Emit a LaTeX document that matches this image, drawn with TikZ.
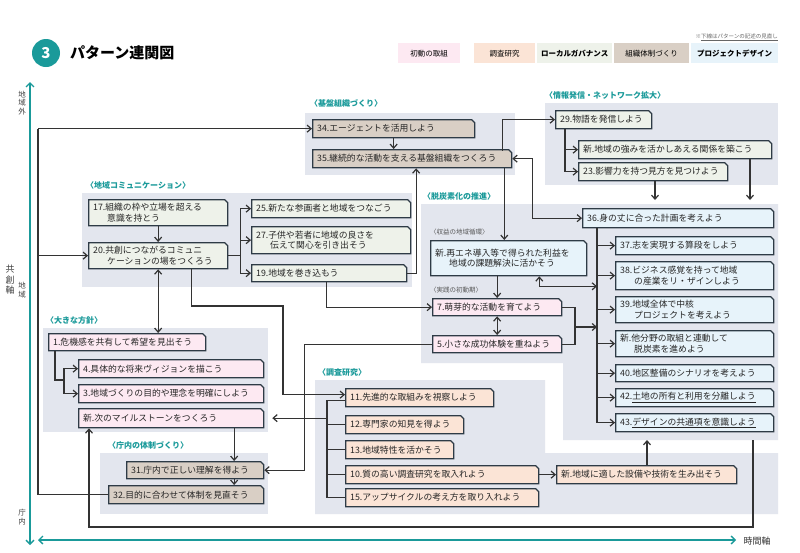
\documentclass[tikz,border=0pt]{standalone}
\usepackage{fontspec}
\setmainfont{Noto Sans CJK JP}
\usetikzlibrary{shapes.misc,arrows.meta,calc}
\definecolor{cpink}{HTML}{FDE9F2}
\definecolor{cpeach}{HTML}{FBE4D6}
\definecolor{cgreen}{HTML}{EEF2EA}
\definecolor{cbrown}{HTML}{D9CFC5}
\definecolor{cblue}{HTML}{E7F3FA}
\definecolor{cgroup}{HTML}{E3E6EE}
\definecolor{cline}{HTML}{2E3B46}
\definecolor{cteal}{HTML}{1A9A9A}
\tikzset{
 box/.style={draw=cline,line width=1.3pt,chamfered rectangle,chamfered rectangle corners=north east,chamfered rectangle xsep=1.5pt,chamfered rectangle ysep=1.5pt,inner xsep=3pt,inner ysep=1pt,align=left,font=\fontsize{8.8}{10.5}\selectfont,text=black!85},
 arr/.style={line width=1.2pt,draw=black!80,-{Straight Barb[length=4pt,width=7pt,line width=1.2pt]}},
 arrb/.style={line width=1.2pt,draw=black!80,{Straight Barb[length=4pt,width=7pt,line width=1.2pt]}-{Straight Barb[length=4pt,width=7pt,line width=1.2pt]}},
 ln/.style={line width=1.2pt,draw=black!80},
 grp/.style={fill=cgroup,draw=none},
 glab/.style={text=cteal,font=\fontsize{8}{9}\selectfont\bfseries,anchor=west,inner sep=0pt},
 slab/.style={text=black!65,font=\fontsize{6.5}{8}\selectfont,anchor=west,inner sep=0pt},
 leg/.style={minimum height=20pt,inner sep=0pt,font=\fontsize{7.5}{9}\selectfont,anchor=north west},
 axis/.style={line width=1.3pt,draw=cteal,{Straight Barb[length=4pt,width=8pt]}-{Straight Barb[length=4pt,width=8pt]}},
 axl/.style={font=\fontsize{7.5}{8.5}\selectfont,text=black!75,align=center,inner sep=0pt}
}
\newcommand\bx[7]{\pgfmathsetmacro\bxw{#4-#2}\pgfmathsetmacro\bxh{#5-#3}\pgfmathsetmacro\bxt{#4-#2-8}%
 \node[box,fill=#6,minimum width=\bxw pt,minimum height=\bxh pt,text width=\bxt pt,anchor=north west] (#1) at (#2,#3) {#7};}
\begin{document}
\begin{tikzpicture}[x=1pt,y=-1pt]
\useasboundingbox[fill=white] (0,0) rectangle (800,552);
% header
\node[circle,fill=cteal,minimum size=28pt,inner sep=0pt,text=white,font=\fontsize{15}{15}\selectfont\bfseries] (num) at (46,53) {3};
\node[anchor=west,font=\fontsize{15}{16}\selectfont\bfseries,inner sep=0pt] (title) at (70,53) {パターン連関図};
\node[anchor=east,font=\fontsize{5.5}{6}\selectfont,text=black!60,inner sep=0pt] (note) at (778,37) {※\underline{下線はパターンの記述の見直し}};
\node[leg,fill=cpink,minimum width=62pt] (l1) at (398,43) {初動の取組};
\node[leg,fill=cpeach,minimum width=61pt] (l2) at (474,43) {調査研究};
\node[leg,fill=cgreen,minimum width=75pt,font=\fontsize{7.5}{9}\selectfont\bfseries] (l3) at (537,43) {ローカルガバナンス};
\node[leg,fill=cbrown,minimum width=75pt] (l4) at (614,43) {組織体制づくり};
\node[leg,fill=cblue,minimum width=87pt,font=\fontsize{7.5}{9}\selectfont\bfseries] (l5) at (691,43) {プロジェクトデザイン};
% axes
\coordinate (ax1) at (30,82); \coordinate (ax2) at (30,545);
\draw[axis] (ax1) -- (ax2);
\coordinate (at1) at (38,540); \coordinate (at2) at (736,540);
\draw[axis] (at1) -- (at2);
\node[anchor=west,font=\fontsize{9}{10}\selectfont,text=black!80] (tl) at (740,541) {時間軸};
\node[axl] (a1) at (22,103) {地\\域\\外};
\node[axl] (a2) at (22,290) {地\\域};
\node[axl] (a3) at (22,517) {庁\\内};
\node[axl,font=\fontsize{9}{10.5}\selectfont] (a4) at (10,280) {共\\創\\軸};
% groups
\fill[grp] (305,113) rectangle (515,175);
\fill[grp] (545,103) rectangle (778,185);
\fill[grp] (82,193) rectangle (412,287);
\fill[grp] (421,204) -- (778,204) -- (778,440) -- (563,440) -- (563,363) -- (421,363) -- cycle;
\fill[grp] (43,328) rectangle (268,432);
\fill[grp] (100,453) rectangle (268,514);
\fill[grp] (315,380) -- (545,380) -- (545,453) -- (778,453) -- (778,514) -- (315,514) -- cycle;
\node[glab] (g1) at (310,103) {〈基盤組織づくり〉};
\node[glab] (g2) at (545,95) {〈情報発信・ネットワーク拡大〉};
\node[glab] (g3) at (86,185) {〈地域コミュニケーション〉};
\node[glab] (g4) at (423,196) {〈脱炭素化の推進〉};
\node[glab] (g5) at (46,320) {〈大きな方針〉};
\node[glab] (g6) at (108,445) {〈庁内の体制づくり〉};
\node[glab] (g7) at (318,372) {〈調査研究〉};
\node[slab] (s1) at (430,232) {〈収益の地域循環〉};
\node[slab] (s2) at (430,290) {〈実践の初動期〉};
% boxes
\bx{n34}{312}{119}{473}{137}{cbrown}{34.エージェントを活用しよう}
\bx{n35}{312}{149}{510}{167}{cbrown}{35.継続的な活動を支える基盤組織をつくろう}
\bx{n29}{555}{110}{650}{128}{cgreen}{29.物語を発信しよう}
\bx{nst}{578}{140}{770}{158}{cgreen}{新.地域の強みを活かしあえる関係を築こう}
\bx{n23}{578}{162}{726}{180}{cgreen}{23.影響力を持つ見方を見つけよう}
\bx{n17}{88}{199}{226}{225}{cgreen}{17.組織の枠や立場を超える\\\hspace*{1.6em}意識を持とう}
\bx{n25}{251}{199}{409}{217}{cgreen}{25.新たな参画者と地域をつなごう}
\bx{n27}{251}{226}{409}{253}{cgreen}{27.子供や若者に地域の良さを\\\hspace*{1.6em}伝えて関心を引き出そう}
\bx{n20}{88}{242}{226}{268}{cgreen}{20.共創につながるコミュニ\\\hspace*{1.6em}ケーションの場をつくろう}
\bx{n19}{251}{264}{405}{281}{cgreen}{19.地域を巻き込もう}
\bx{nre}{430}{240}{585}{275}{cblue}{新.再エネ導入等で得られた利益を\\\hspace*{1.6em}地域の課題解決に活かそう}
\bx{n7}{432}{298}{560}{315}{cpink}{7.萌芽的な活動を育てよう}
\bx{n5}{432}{335}{560}{352}{cpink}{5.小さな成功体験を重ねよう}
\bx{n36}{582}{208}{772}{227}{cblue}{36.身の丈に合った計画を考えよう}
\bx{n37}{615}{236}{772}{254}{cblue}{37.志を実現する算段をしよう}
\bx{n38}{615}{261}{772}{289}{cblue}{38.ビジネス感覚を持って地域\\\hspace*{1.6em}の産業をリ・ザインしよう}
\bx{n39}{615}{296}{772}{322}{cblue}{39.地域全体で中核\\\hspace*{1.6em}プロジェクトを考えよう}
\bx{nta}{615}{330}{772}{356}{cblue}{新.他分野の取組と連動して\\\hspace*{1.6em}脱炭素を進めよう}
\bx{n40}{615}{364}{772}{381}{cblue}{40.地区整備のシナリオを考えよう}
\bx{n42}{615}{388}{772}{406}{cblue}{42.\underline{土地の所有と利用を分離しよう}}
\bx{n43}{615}{413}{772}{431}{cblue}{43.\underline{デザインの共通項を意識しよう}}
\bx{n1}{48}{333}{204}{350}{cpink}{1.危機感を共有して希望を見出そう}
\bx{n4}{78}{359}{262}{377}{cpink}{4.具体的な将来ヴィジョンを描こう}
\bx{n3}{78}{384}{262}{402}{cpink}{3.地域づくりの目的や理念を明確にしよう}
\bx{nms}{78}{408}{262}{427}{cpink}{新.次のマイルストーンをつくろう}
\bx{n31}{126}{461}{262}{478}{cbrown}{31.庁内で正しい理解を得よう}
\bx{n32}{108}{485}{262}{503}{cbrown}{32.目的に合わせて体制を見直そう}
\bx{n11}{345}{388}{492}{406}{cpeach}{11.先進的な取組みを視察しよう}
\bx{n12}{345}{415}{462}{433}{cpeach}{12.専門家の知見を得よう}
\bx{n13}{345}{440}{452}{458}{cpeach}{13.地域特性を活かそう}
\bx{n10}{345}{465}{537}{483}{cpeach}{10.質の高い調査研究を取入れよう}
\bx{n15}{345}{488}{537}{506}{cpeach}{15.アップサイクルの考え方を取り入れよう}
\bx{nad}{556}{465}{735}{483}{cpeach}{新.地域に適した設備や技術を生み出そう}
% coordinates
\coordinate (L) at (38,0);
\coordinate (B11) at (327,0);
\coordinate (B36) at (597,0);
\coordinate (gtop1) at (655,200);
\coordinate (gtop2) at (750,200);
\coordinate (gbot) at (647,440);
\coordinate (gout) at (753,440);
\coordinate (j1) at (64,380);
\coordinate (j75) at (575,327);
% connectors
\draw[ln] (n32.west) -- (n32.west -| L) -- (n34.west -| L);
\draw[arr] (n34.west -| L) -- (n34.west);
\draw[arr] (n20.west -| L) -- (n20.west);
\draw[arr] (n34.south) -- (n34.south |- n35.north);
\draw[arr] (n17.south) -- (n20.north);
\draw[arrb] (n20.south) -- (n20.south |- n1.north);
\draw[ln] (n20.east) -- ++(12,0) coordinate (b20);
\draw[ln] (b20 |- n25.west) -- (b20 |- n19.west);
\draw[arr] (b20 |- n25.west) -- (n25.west);
\draw[arr] (b20 |- n27.west) -- (n27.west);
\draw[arr] (b20 |- n19.west) -- (n19.west);
\draw[arr] (n19.east) -| ([xshift=4pt]n35.south);
\draw[arr] ([xshift=-3pt]n19.south) |- (n7.west);
\draw[arr] ([xshift=33pt]n20.south) |- (283,306) |- ([yshift=3pt]n11.west);
\draw[arr] (n5.west) -| ([xshift=40pt]n31.east) -- (n31.east);
\draw[ln] ([yshift=-3pt]n11.west) -| (B11 |- n15.west) -- (n15.west);
\draw[ln] (B11 |- n12.west) -- (n12.west);
\draw[ln] (B11 |- n13.west) -- (n13.west);
\draw[ln] (B11 |- n10.west) -- (n10.west);
\draw[arr] (B11 |- nms.east) -- ([xshift=8pt]nms.east);
\draw[arr] ([xshift=63pt]nms.south) -- ([xshift=63pt]nms.south |- n31.north);
\draw[arr] ([xshift=39pt]n31.south) -- ([xshift=39pt]n31.south |- n32.north);
\draw[arr] (gout) |- (89,527) -- ([xshift=11pt]nms.south west);
\draw[ln] ([xshift=7pt]n1.south west) |- (j1);
\draw[arr] (j1) |- (n4.west);
\draw[arr] (j1) |- (n3.west);
\draw[arr] ([xshift=-8pt]n35.north east) |- (n29.west);
\draw[arr] ([xshift=-8pt]n35.south east) -- ([xshift=-8pt]n35.south east |- nre.north);
\draw[arrb] (n35.east) -- ++(20,0) |- (n36.west);
\draw[ln] ([xshift=10pt]n29.south west) |- (n23.west);
\draw[arr] ([xshift=10pt]n29.south west |- nst.west) -- (nst.west);
\draw[arr] ([xshift=10pt]n29.south west |- n23.west) -- (n23.west);
\draw[arr] (n23.south -| gtop1) -- (gtop1);
\draw[arr] (nst.south -| gtop2) -- (gtop2);
\draw[ln] (n36.south -| B36) |- (n43.west);
\foreach \n in {n37,n38,n39,nta,n40,n42,n43} \draw[arr] (B36 |- \n.west) -- (\n.west);
\draw[arrb] ([xshift=-48pt]nre.south east) |- ([yshift=-10pt]B36 |- nre.south);
\draw[arr] (n7.north |- nre.south) -- (n7.north);
\draw[arrb] (n7.south) -- (n5.north);
\draw[ln] (n7.east) -| (j75);
\draw[ln] (n5.east) -| (j75);
\draw[arr] (j75) -- (B36 |- j75);
\draw[arr] (n10.east) -- (nad.west);
\draw[arr] (nad.north -| gbot) -- (gbot);
\end{tikzpicture}
\end{document}
